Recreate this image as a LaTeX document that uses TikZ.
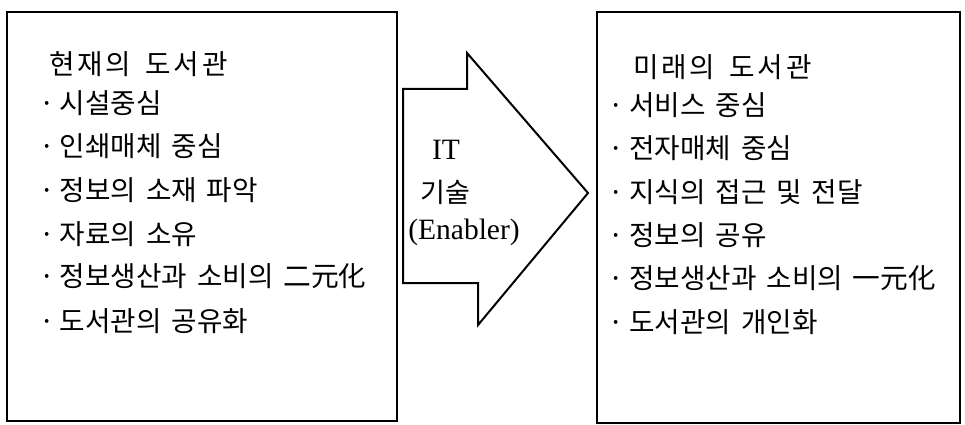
\documentclass[tikz,border=0pt]{standalone}
\usepackage{fontspec}
\setmainfont{Liberation Serif}
\newfontfamily\kr[WordSpace=1.6]{Noto Sans CJK KR}
\newfontfamily\krtitle[LetterSpace=10,WordSpace=1.6]{Noto Sans CJK KR}
\newcommand{\itembullet}{\makebox[25pt][c]{·}}
\begin{document}
\begin{tikzpicture}[x=1pt,y=-1pt,
  box/.style={draw, line width=2.4pt, inner sep=0pt},
  arrowline/.style={draw, line width=2pt, line join=miter, fill=white},
  item/.style={anchor=west, inner sep=0pt, font=\kr\fontsize{27.7}{27.7}\selectfont},
  ttl/.style={anchor=west, inner sep=0pt, font=\krtitle\fontsize{27.7}{27.7}\selectfont},
  lat/.style={inner sep=0pt, font=\fontsize{29.5}{29.5}\selectfont},
  krmid/.style={inner sep=0pt, font=\kr\fontsize{27}{27}\selectfont}]
\useasboundingbox (0,0) rectangle (965,425);
% boxes
\node[box, minimum width=390pt, minimum height=409pt] (L) at (202,216.5) {};
\node[box, minimum width=363pt, minimum height=411pt] (R) at (778.5,217.5) {};
% arrow
\coordinate (a1) at (403,89);
\coordinate (a2) at (467,89);
\coordinate (a3) at (467,53);
\coordinate (tip) at (588,193);
\coordinate (a5) at (478,325);
\coordinate (a6) at (478,283);
\coordinate (a7) at (403,283);
\draw[arrowline] (a1) -- (a2) -- (a3) -- (tip) -- (a5) -- (a6) -- (a7) -- cycle;
\node[lat] (it) at (446,149.5) {IT};
\node[krmid] (tech) at (445,192.5) {기술};
\node[lat] (en) at (464,232) {(Enabler)};
% left texts
\node[ttl] (l0) at (49,64) {현재의 도서관};
\node[item] (l1) at (34.5,103) {\itembullet 시설중심};
\node[item] (l2) at (34.5,146.6) {\itembullet 인쇄매체 중심};
\node[item] (l3) at (34.5,190.2) {\itembullet 정보의 소재 파악};
\node[item] (l4) at (34.5,233.8) {\itembullet 자료의 소유};
\node[item] (l5) at (34.5,276.5) {\itembullet 정보생산과 소비의 二元化};
\node[item] (l6) at (34.5,321) {\itembullet 도서관의 공유화};
% right texts
\node[ttl] (r0) at (633,67) {미래의 도서관};
\node[item] (r1) at (604,105) {\itembullet 서비스 중심};
\node[item] (r2) at (604,148.4) {\itembullet 전자매체 중심};
\node[item] (r3) at (604,191.8) {\itembullet 지식의 접근 및 전달};
\node[item] (r4) at (604,235.2) {\itembullet 정보의 공유};
\node[item] (r5) at (604,278.6) {\itembullet 정보생산과 소비의 一元化};
\node[item] (r6) at (604,322) {\itembullet 도서관의 개인화};
\end{tikzpicture}
\end{document}
